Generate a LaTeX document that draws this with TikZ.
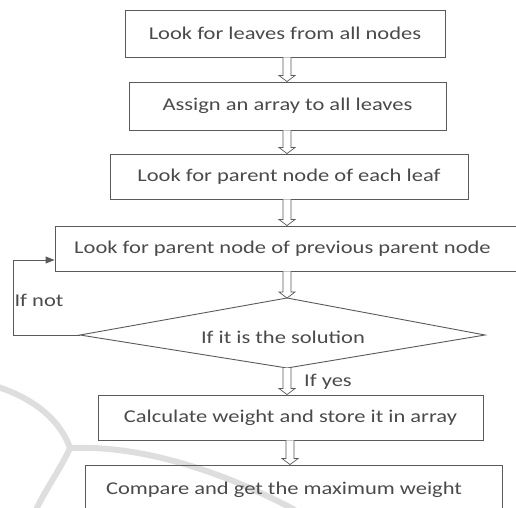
\documentclass[tikz,border=0pt]{standalone}
\usepackage{fontspec}
\setmainfont{Carlito}[FakeStretch=1.25]
\usetikzlibrary{arrows.meta,calc}
\definecolor{linec}{HTML}{5A5A5A}
\definecolor{textc}{HTML}{4A4A4A}
\definecolor{wmark}{HTML}{DEDEDE}
\tikzset{
  stepbox/.style={draw=linec, line width=0.9pt, rectangle, inner sep=0pt, text=textc,
    font=\fontsize{18}{20}\selectfont},
  lbl/.style={inner sep=0pt, text=textc, font=\fontsize{18}{20}\selectfont},
  harrow/.style={draw=linec, line width=0.7pt, fill=white},
  loopline/.style={draw=linec, line width=0.9pt},
}
\newcommand{\hollowarrow}[2]{%
  \path[harrow] let \p1=(#1), \p2=(#2) in
    (\x1-4pt,\y1) -- (\x1-4pt,\y2+6pt) -- (\x1-8pt,\y2+6pt) -- (\x1,\y2)
    -- (\x1+8pt,\y2+6pt) -- (\x1+4pt,\y2+6pt) -- (\x1+4pt,\y1);}
\begin{document}
\begin{tikzpicture}[x=1pt,y=-1pt]
\useasboundingbox (0,0) rectangle (516,507);
\clip (0,0) rectangle (516,507);
% watermark
\draw[wmark, line width=6pt, line cap=round] (-5,386) .. controls (40,400) and (62,425) .. (70,448)
  .. controls (60,470) and (45,490) .. (35,512);
\draw[wmark, line width=6pt] (70,448) .. controls (140,445) and (220,470) .. (295,510);
% boxes
\node[stepbox, minimum width=320, minimum height=47] (b1) at (285,33.5) {Look for leaves from all nodes};
\node[stepbox, minimum width=317, minimum height=48] (b2) at (287.5,106) {Assign an array to all leaves};
\node[stepbox, minimum width=358, minimum height=45] (b3) at (289,176.5) {Look for parent node of each leaf};
\node[stepbox, minimum width=470, minimum height=45] (b4) at (290,248.5) {};
\node[lbl] (b4t) at (282.5,249) {Look for parent node of previous parent node};
\node[stepbox, minimum width=385, minimum height=45] (b5) at (290.5,417.5) {Calculate weight and store it in array};
\node[stepbox, minimum width=417, minimum height=52] (b6) at (293.5,491) {};
\node[lbl] (b6t) at (284,490) {Compare and get the maximum weight};
% decision
\coordinate (dT) at (287,298);
\coordinate (dB) at (287,368);
\coordinate (dL) at (80,335);
\coordinate (dR) at (485,335);
\draw[linec, line width=0.9pt] (dT) -- (dR) -- (dB) -- (dL) -- cycle;
\node[lbl] (sol) at (283,337) {If it is the solution};
% axis for arrows
\coordinate (ax) at (287,0);
\coordinate (ax2) at (290,0);
\hollowarrow{b1.south -| ax}{b2.north -| ax}
\hollowarrow{b2.south -| ax}{b3.north -| ax}
\hollowarrow{b3.south -| ax}{b4.north -| ax}
\hollowarrow{b4.south -| ax}{dT}
\hollowarrow{dB}{b5.north -| ax}
\hollowarrow{b5.south -| ax2}{b6.north -| ax2}
% loop back
\coordinate (lp) at (13,260);
\draw[loopline, -{Triangle[length=9pt,width=7pt]}] (dL) -- (dL -| lp) -- (lp) -- (lp -| b4.west);
\node[lbl] (ifnot) at (39,300) {If not};
\node[lbl] (ifyes) at (328,382) {If yes};
\end{tikzpicture}
\end{document}
